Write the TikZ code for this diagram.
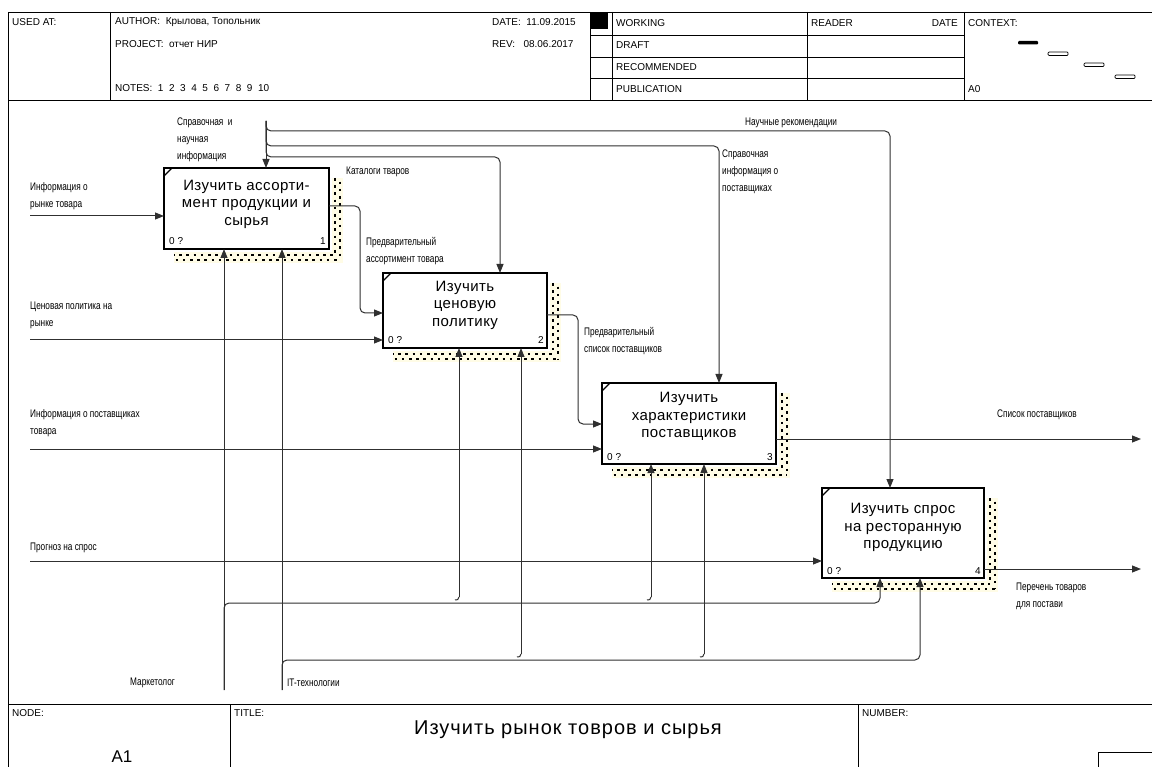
\documentclass[tikz,border=0pt]{standalone}
\usepackage{fontspec}
\setmainfont{Liberation Sans}
\newfontfamily\lblfont[FakeStretch=0.75]{Liberation Sans}
\usetikzlibrary{arrows.meta}
\definecolor{shadowbg}{HTML}{FFFCE6}
\definecolor{conn}{HTML}{303030}
\tikzset{
  frame/.style={line width=0.9pt, black},
  box/.style={draw=black, line width=1.8pt, inner sep=0pt, outer sep=0pt, anchor=north west},
  boxtxt/.style={font=\fontsize{15}{17.5}\selectfont\addfontfeature{LetterSpace=3}, align=center, inner sep=0pt},
  numtxt/.style={font=\fontsize{10}{12}\selectfont, inner sep=0pt},
  hdr/.style={font=\fontsize{10}{12}\selectfont, anchor=west, inner sep=0pt},
  lbl/.style={font=\lblfont\fontsize{11}{17}\selectfont, anchor=west, align=left, inner sep=0pt},
  shd/.style={line width=2.6pt, black, dash pattern=on 2.6pt off 4.6pt},
  conline/.style={conn, line width=1pt, rounded corners=5pt},
  arr/.style={conline, -{Triangle[length=9pt,width=7pt]}},
  ctxbar/.style={draw=black, line width=0.7pt, rounded corners=1pt}
}
\newcommand\idefshadow[4]{%
  \fill[shadowbg] (#3+3,#2+10) rectangle (#3+14,#4+14);
  \fill[shadowbg] (#1+10,#4+3) rectangle (#3+14,#4+14);
  \draw[shd] (#3+6,#2+10) -- (#3+6,#4+6);
  \draw[shd, dash phase=3.6pt] (#3+11,#2+10) -- (#3+11,#4+11);
  \draw[shd, dash phase=2pt] (#1+10,#4+6) -- (#3+6,#4+6);
  \draw[shd, dash phase=5.6pt] (#1+10,#4+11) -- (#3+11,#4+11);
}
\newcommand\idefcorner[2]{\draw[line width=1.3pt] (#1,#2+8) -- (#1+8,#2);}
\begin{document}
\begin{tikzpicture}[x=1pt,y=-1pt]
\useasboundingbox (0,0) rectangle (1152,767);
\fill[white] (0,0) rectangle (1152,767);

% ---------- header ----------
\draw[frame] (8,12) -- (1152,12);
\draw[frame] (8,12) -- (8,767);
\draw[frame] (8,100) -- (1152,100);
\draw[frame] (110,12) -- (110,100);
\draw[frame] (590,12) -- (590,100);
\draw[frame] (612,12) -- (612,100);
\draw[frame] (807,12) -- (807,100);
\draw[frame] (964,12) -- (964,100);
\foreach \yy in {35,57,78} \draw[frame] (590,\yy) -- (964,\yy);
\fill[black] (590,12) rectangle (608,29);

\node[hdr] (usedat) at (12,22) {USED AT:};
\node[hdr] (author) at (115,22) {AUTHOR:\ \ Крылова, Топольник};
\node[hdr] (project) at (115,44) {PROJECT:\ \ отчет НИР};
\node[hdr] (notes) at (115,88) {NOTES:\ \ 1\ \ 2\ \ 3\ \ 4\ \ 5\ \ 6\ \ 7\ \ 8\ \ 9\ \ 10};
\node[hdr] (date) at (492,22) {DATE:\ \ 11.09.2015};
\node[hdr] (rev) at (492,44) {REV:\ \ \ 08.06.2017};
\node[hdr] (working) at (616,23) {WORKING};
\node[hdr] (draft) at (616,45) {DRAFT};
\node[hdr] (recom) at (616,67) {RECOMMENDED};
\node[hdr] (publ) at (616,89) {PUBLICATION};
\node[hdr] (reader) at (811,23) {READER};
\node[hdr, anchor=east] (rdate) at (958,23) {DATE};
\node[hdr] (context) at (968,23) {CONTEXT:};
\node[hdr] (a0) at (968,89) {A0};
\fill[black, rounded corners=1pt] (1018,41) rectangle (1038,44.5);
\draw[ctxbar] (1048,52) rectangle (1068,55.5);
\draw[ctxbar] (1084,63) rectangle (1104,66.5);
\draw[ctxbar] (1115,75) rectangle (1135,78.5);

% ---------- footer ----------
\draw[frame] (8,704) -- (1152,704);
\draw[frame] (230,704) -- (230,767);
\draw[frame] (858,704) -- (858,767);
\draw[frame] (1098,767) -- (1098,752) -- (1152,752);
\node[hdr] (nodelbl) at (12,713) {NODE:};
\node[hdr] (titlelbl) at (234,713) {TITLE:};
\node[hdr] (numlbl) at (862,713) {NUMBER:};
\node[font=\fontsize{17}{20}\selectfont, inner sep=0pt] (nodeval) at (122,757) {A1};
\node[font=\fontsize{20}{24}\selectfont\addfontfeature{LetterSpace=5}, inner sep=0pt] (title) at (568,730) {Изучить рынок товров и сырья};

% ---------- shadows ----------
\idefshadow{164}{168}{329}{249}
\idefshadow{383}{273}{547}{348}
\idefshadow{602}{383}{776}{464}
\idefshadow{822}{488}{984}{578}

% ---------- boxes ----------
\node[box, minimum width=165pt, minimum height=81pt] (b1) at (164,168) {};
\node[box, minimum width=164pt, minimum height=75pt] (b2) at (383,273) {};
\node[box, minimum width=174pt, minimum height=81pt] (b3) at (602,383) {};
\node[box, minimum width=162pt, minimum height=90pt] (b4) at (822,488) {};
\idefcorner{164}{168}
\idefcorner{383}{273}
\idefcorner{602}{383}
\idefcorner{822}{488}

\node[boxtxt] (b1t) at (246.5,204) {Изучить ассорти-\\мент продукции и\\сырья};
\node[boxtxt] (b2t) at (465,305) {Изучить\\ценовую\\политику};
\node[boxtxt] (b3t) at (689,416.5) {Изучить\\характеристики\\поставщиков};
\node[boxtxt] (b4t) at (903,527.5) {Изучить спрос\\на ресторанную\\продукцию};

\node[numtxt, anchor=base west] (b1z) at (169,245) {0 ?};
\node[numtxt, anchor=base east] (b1n) at (326,245) {1};
\node[numtxt, anchor=base west] (b2z) at (388,344) {0 ?};
\node[numtxt, anchor=base east] (b2n) at (544,344) {2};
\node[numtxt, anchor=base west] (b3z) at (607,460) {0 ?};
\node[numtxt, anchor=base east] (b3n) at (773,460) {3};
\node[numtxt, anchor=base west] (b4z) at (827,574) {0 ?};
\node[numtxt, anchor=base east] (b4n) at (981,574) {4};

% ---------- inputs ----------
\coordinate (in1) at (30,216);
\coordinate (in2) at (30,340);
\coordinate (in3) at (30,449);
\coordinate (in4) at (30,561);
\draw[arr] (in1) -- (in1 -| b1.west);
\draw[arr] (in2) -- (in2 -| b2.west);
\draw[arr] (in3) -- (in3 -| b3.west);
\draw[arr] (in4) -- (in4 -| b4.west);

% ---------- box to box ----------
\coordinate (k1) at (360,206);
\coordinate (k1b) at (360,313);
\draw[arr] (k1 -| b1.east) -- (k1) -- (k1b) -- (k1b -| b2.west);
\coordinate (k2) at (578,315);
\coordinate (k2b) at (578,424);
\draw[arr] (k2 -| b2.east) -- (k2) -- (k2b) -- (k2b -| b3.west);

% ---------- outputs ----------
\coordinate (out3) at (1141,439);
\coordinate (out4) at (1141,569);
\draw[arr] (out3 -| b3.east) -- (out3);
\draw[arr] (out4 -| b4.east) -- (out4);

% ---------- controls ----------
\coordinate (ctop) at (266,121);
\coordinate (c4) at (890,131);
\coordinate (c3) at (719,146);
\coordinate (c2) at (500,157);
\draw[arr] (ctop) -- (ctop |- b1.north);
\draw[arr] (ctop) |- (c4) -- (c4 |- b4.north);
\draw[arr] (ctop) |- (c3) -- (c3 |- b3.north);
\draw[arr] (ctop) |- (c2) -- (c2 |- b2.north);

% ---------- mechanisms ----------
\coordinate (m1) at (224,690);
\coordinate (m2) at (282,690);
\coordinate (h1) at (880,603);
\coordinate (h2) at (920,660);
\draw[arr] (m1) -- (m1 |- b1.south);
\draw[arr] (m2) -- (m2 |- b1.south);
\draw[arr] (m1) |- (h1) -- (h1 |- b4.south);
\draw[arr] (m2) |- (h2) -- (h2 |- b4.south);
\coordinate (t2) at (459,597);
\coordinate (t3) at (651,597);
\coordinate (u2) at (521,654);
\coordinate (u3) at (704,654);
\draw[conline] (455,600) .. controls (458,600) .. (t2);
\draw[arr] (t2) -- (t2 |- b2.south);
\draw[conline] (647,600) .. controls (650,600) .. (t3);
\draw[arr] (t3) -- (t3 |- b3.south);
\draw[conline] (517,657) .. controls (520,657) .. (u2);
\draw[arr] (u2) -- (u2 |- b2.south);
\draw[conline] (700,657) .. controls (703,657) .. (u3);
\draw[arr] (u3) -- (u3 |- b3.south);

% ---------- labels ----------
\node[lbl] (l1) at (177,140) {Справочная\ \ и\\научная\\информация};
\node[lbl] (l2) at (745,123) {Научные рекомендации};
\node[lbl] (l3) at (722,172) {Справочная\\информация о\\поставщиках};
\node[lbl] (l4) at (346,172) {Каталоги тваров};
\node[lbl] (l5) at (366,251.5) {Предварительный\\ассортимент товара};
\node[lbl] (l6) at (30,196.5) {Информация о\\рынке товара};
\node[lbl] (l7) at (30,315) {Ценовая политика на\\рынке};
\node[lbl] (l8) at (584,341.5) {Предварительный\\список поставщиков};
\node[lbl] (l9) at (30,423.5) {Информация о поставщиках\\товара};
\node[lbl] (l10) at (997,415) {Список поставщиков};
\node[lbl] (l11) at (30,548) {Прогноз на спрос};
\node[lbl] (l12) at (1016,596.5) {Перечень товаров\\для постави};
\node[lbl] (l13) at (130,683) {Маркетолог};
\node[lbl] (l14) at (287,683) {IT-технологии};
\end{tikzpicture}
\end{document}
